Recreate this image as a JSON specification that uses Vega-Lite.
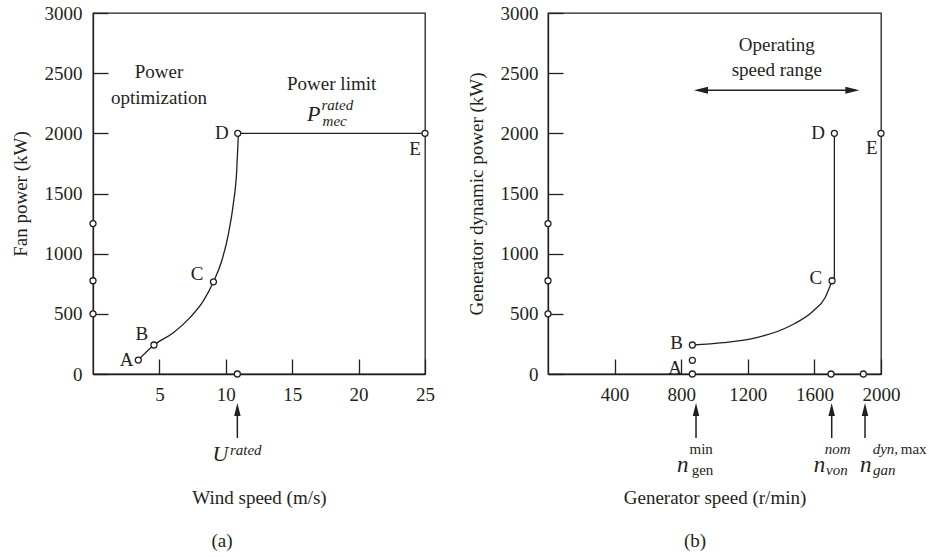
{
  "$schema": "https://vega.github.io/schema/vega-lite/v6.json",
  "padding": {"left": 10, "top": 3, "right": 0, "bottom": 0},
  "background": "white",
  "config": {
    "view": {"stroke": "#231f20", "strokeWidth": 1.3},
    "axis": {
      "labelFont": "Liberation Serif", "labelFontSize": 19, "labelColor": "#231f20", "format": "d",
      "titleFont": "Liberation Serif", "titleFontSize": 19, "titleFontWeight": "normal", "titleColor": "#231f20",
      "domainColor": "#231f20", "domainWidth": 1.3, "tickColor": "#231f20", "tickWidth": 1.3,
      "tickSize": -15, "grid": false, "labelFlush": false, "labelOverlap": false
    },
    "text": {"font": "Liberation Serif", "fontSize": 19, "color": "#231f20", "align": "center", "baseline": "middle"},
    "concat": {"spacing": 30}
  },
  "hconcat": [
    {
      "width": 332, "height": 361,
      "encoding": {
        "x": {"field": "x", "type": "quantitative", "scale": {"domain": [0, 25], "nice": false, "zero": false},
              "axis": {"values": [5, 10, 15, 20, 25], "title": "Wind speed (m/s)", "labelPadding": 26, "titlePadding": 84}},
        "y": {"field": "y", "type": "quantitative", "scale": {"domain": [0, 3000], "nice": false, "zero": false},
              "axis": {"values": [0, 500, 1000, 1500, 2000, 2500, 3000], "title": "Fan power (kW)", "labelPadding": 26, "titlePadding": 14}}
      },
      "layer": [
        {
          "data": {"values": [
            {"x": 3.41, "y": 116, "s": "ad"}, {"x": 4.59, "y": 241, "s": "ad"}, {"x": 6.05, "y": 343, "s": "ad"},
            {"x": 7.30, "y": 468, "s": "ad"}, {"x": 8.31, "y": 607, "s": "ad"}, {"x": 9.07, "y": 766, "s": "ad"},
            {"x": 9.69, "y": 939, "s": "ad"}, {"x": 10.19, "y": 1161, "s": "ad"}, {"x": 10.56, "y": 1410, "s": "ad"},
            {"x": 10.82, "y": 1687, "s": "ad"}, {"x": 10.95, "y": 2000, "s": "ad"},
            {"x": 10.95, "y": 2000, "s": "de"}, {"x": 25, "y": 2000, "s": "de"}
          ]},
          "mark": {"type": "line", "interpolate": "monotone", "color": "#231f20", "strokeWidth": 1.3},
          "encoding": {"detail": {"field": "s"}}
        },
        {
          "data": {"values": [
            {"x": 0, "y": 500}, {"x": 0, "y": 775}, {"x": 0, "y": 1250},
            {"x": 3.41, "y": 116}, {"x": 4.59, "y": 241}, {"x": 9.07, "y": 766},
            {"x": 10.9, "y": 2000}, {"x": 25, "y": 2000}, {"x": 10.87, "y": 0}
          ]},
          "mark": {"type": "point", "shape": "circle", "filled": true, "fill": "white", "stroke": "#231f20", "strokeWidth": 1.3, "size": 36, "opacity": 1}
        },
        {
          "data": {"values": [
            {"x": 2.54, "y": 116, "t": "A"}, {"x": 3.67, "y": 332, "t": "B"}, {"x": 7.83, "y": 831, "t": "C"},
            {"x": 9.71, "y": 2003, "t": "D"}, {"x": 24.25, "y": 1870, "t": "E"},
            {"x": 4.97, "y": 2510, "t": "Power"}, {"x": 4.97, "y": 2296, "t": "optimization"},
            {"x": 17.97, "y": 2412, "t": "Power limit"}, {"x": 9.71, "y": -1388, "t": "(a)"}
          ]},
          "mark": {"type": "text"},
          "encoding": {"text": {"field": "t"}}
        },
        {
          "data": {"values": [
            {"x": 16.62, "y": 2161, "t": "P"}, {"x": 9.6, "y": -665, "t": "U"}
          ]},
          "mark": {"type": "text", "fontStyle": "italic", "fontSize": 22},
          "encoding": {"text": {"field": "t"}}
        },
        {
          "data": {"values": [
            {"x": 18.4, "y": 2236, "t": "rated"}, {"x": 18.2, "y": 2100, "t": "mec"}, {"x": 11.5, "y": -632, "t": "rated"}
          ]},
          "mark": {"type": "text", "fontStyle": "italic", "fontSize": 15},
          "encoding": {"text": {"field": "t"}}
        },
        {
          "data": {"values": [{"x": 10.87, "y": -295, "y2": -532}]},
          "mark": {"type": "rule", "color": "#231f20", "strokeWidth": 1.5},
          "encoding": {"y2": {"field": "y2"}}
        },
        {
          "data": {"values": [{"x": 10.87, "y": -295}]},
          "mark": {"type": "point", "shape": "M0,-1L0.5,1L-0.5,1Z", "filled": true, "color": "#231f20", "size": 169, "opacity": 1}
        }
      ]
    },
    {
      "width": 333, "height": 361,
      "encoding": {
        "x": {"field": "x", "type": "quantitative", "scale": {"domain": [0, 2000], "nice": false, "zero": false},
              "axis": {"values": [400, 800, 1200, 1600, 2000], "title": "Generator speed (r/min)", "labelPadding": 26, "titlePadding": 84}},
        "y": {"field": "y", "type": "quantitative", "scale": {"domain": [0, 3000], "nice": false, "zero": false},
              "axis": {"values": [0, 500, 1000, 1500, 2000, 2500, 3000], "title": "Generator dynamic power (kW)", "labelPadding": 25, "titlePadding": 14}}
      },
      "layer": [
        {
          "data": {"values": [
            {"x": 867, "y": 241, "s": "bc"}, {"x": 1053, "y": 260, "s": "bc"}, {"x": 1253, "y": 302, "s": "bc"},
            {"x": 1453, "y": 399, "s": "bc"}, {"x": 1593, "y": 524, "s": "bc"}, {"x": 1664, "y": 634, "s": "bc"},
            {"x": 1706, "y": 775, "s": "bc"},
            {"x": 1720, "y": 790, "s": "cd"}, {"x": 1720, "y": 2000, "s": "cd"}
          ]},
          "mark": {"type": "line", "interpolate": "monotone", "color": "#231f20", "strokeWidth": 1.3},
          "encoding": {"detail": {"field": "s"}}
        },
        {
          "data": {"values": [
            {"x": 0, "y": 500}, {"x": 0, "y": 775}, {"x": 0, "y": 1250},
            {"x": 867, "y": 0}, {"x": 867, "y": 114}, {"x": 867, "y": 241},
            {"x": 1706, "y": 775}, {"x": 1720, "y": 2000}, {"x": 2000, "y": 2000},
            {"x": 1700, "y": 0}, {"x": 1894, "y": 0}
          ]},
          "mark": {"type": "point", "shape": "circle", "filled": true, "fill": "white", "stroke": "#231f20", "strokeWidth": 1.3, "size": 36, "opacity": 1}
        },
        {
          "data": {"values": [
            {"x": 763, "y": 52, "t": "A"}, {"x": 773, "y": 258, "t": "B"}, {"x": 1608, "y": 800, "t": "C"},
            {"x": 1622, "y": 2003, "t": "D"}, {"x": 1944, "y": 1881, "t": "E"},
            {"x": 1374, "y": 2734, "t": "Operating"}, {"x": 1374, "y": 2526, "t": "speed range"},
            {"x": 883, "y": -1388, "t": "(b)"}
          ]},
          "mark": {"type": "text"},
          "encoding": {"text": {"field": "t"}}
        },
        {
          "data": {"values": [
            {"x": 920, "y": -625, "t": "min"}, {"x": 928, "y": -800, "t": "gen"}, {"x": 2196, "y": -625, "t": "max"}
          ]},
          "mark": {"type": "text", "fontSize": 15},
          "encoding": {"text": {"field": "t"}}
        },
        {
          "data": {"values": [
            {"x": 810, "y": -760, "t": "n"}, {"x": 1630, "y": -760, "t": "n"}, {"x": 1908, "y": -760, "t": "n"}
          ]},
          "mark": {"type": "text", "fontStyle": "italic", "fontSize": 23},
          "encoding": {"text": {"field": "t"}}
        },
        {
          "data": {"values": [
            {"x": 1740, "y": -625, "t": "nom"}, {"x": 1735, "y": -800, "t": "von"},
            {"x": 2026, "y": -625, "t": "dyn,"}, {"x": 2020, "y": -800, "t": "gan"}
          ]},
          "mark": {"type": "text", "fontStyle": "italic", "fontSize": 15},
          "encoding": {"text": {"field": "t"}}
        },
        {
          "data": {"values": [
            {"x": 889, "y": -295, "y2": -532}, {"x": 1704, "y": -295, "y2": -532}, {"x": 1904, "y": -295, "y2": -532}
          ]},
          "mark": {"type": "rule", "color": "#231f20", "strokeWidth": 1.5},
          "encoding": {"y2": {"field": "y2"}}
        },
        {
          "data": {"values": [{"x": 900, "y": 2357, "x2": 1850}]},
          "mark": {"type": "rule", "color": "#231f20", "strokeWidth": 1.5},
          "encoding": {"x2": {"field": "x2"}}
        },
        {
          "data": {"values": [{"x": 889, "y": -295}, {"x": 1704, "y": -295}, {"x": 1904, "y": -295}]},
          "mark": {"type": "point", "shape": "M0,-1L0.5,1L-0.5,1Z", "filled": true, "color": "#231f20", "size": 169, "opacity": 1}
        },
        {
          "data": {"values": [{"x": 919, "y": 2357}]},
          "mark": {"type": "point", "shape": "M-1,0L1,-0.5L1,0.5Z", "filled": true, "color": "#231f20", "size": 196, "opacity": 1}
        },
        {
          "data": {"values": [{"x": 1828, "y": 2357}]},
          "mark": {"type": "point", "shape": "M1,0L-1,-0.5L-1,0.5Z", "filled": true, "color": "#231f20", "size": 196, "opacity": 1}
        }
      ]
    }
  ]
}
